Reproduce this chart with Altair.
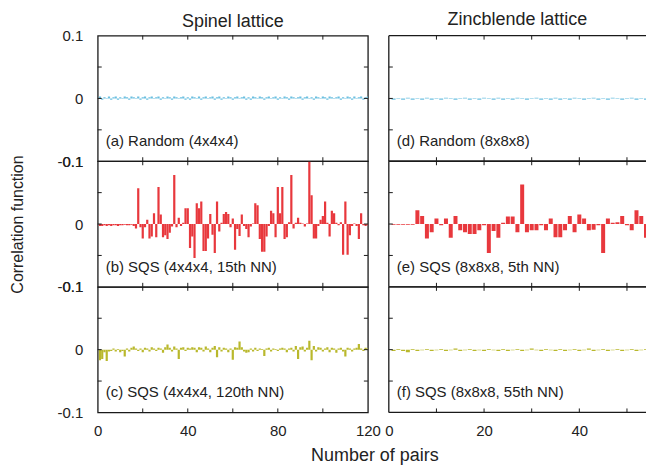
import altair as alt
import pandas as pd

# ---------------- data ----------------
pairs_spinel = list(range(1, 121))
pairs_zb = list(range(1, 55))

rand_spinel = [
    0.003, -0.002, 0.002, -0.001, 0.003, -0.002, 0.002, 0.003, -0.002, 0.002,
    -0.001, 0.003, 0.002, -0.002, 0.003, 0.002, -0.001, 0.003, -0.002, 0.002,
    0.003, -0.002, 0.002, 0.003, -0.001, 0.002, 0.003, -0.002, 0.002, -0.001,
    0.003, 0.002, -0.002, 0.003, 0.002, -0.001, 0.002, 0.003, -0.002, 0.002,
    -0.002, 0.003, 0.002, -0.001, 0.003, -0.002, 0.002, 0.003, -0.001, 0.002,
    0.003, -0.002, 0.002, 0.003, -0.002, 0.002, -0.001, 0.003, 0.002, -0.002,
    0.002, 0.003, -0.001, 0.002, 0.003, -0.002, 0.002, -0.002, 0.003, 0.002,
    -0.001, 0.003, 0.002, -0.002, 0.002, 0.003, -0.001, 0.002, 0.003, -0.002,
    0.002, -0.001, 0.003, 0.002, -0.002, 0.003, 0.002, -0.001, 0.002, 0.003,
    -0.002, 0.002, 0.003, -0.001, 0.002, -0.002, 0.003, 0.002, -0.001, 0.003,
    0.002, -0.002, 0.003, 0.002, -0.001, 0.002, 0.003, -0.002, 0.002, -0.001,
    0.003, 0.002, -0.002, 0.003, -0.001, 0.002, 0.003, -0.002, 0.002, 0.003,
]

sqs15_spinel = [
    -0.003, -0.003, -0.002, -0.003, -0.002, -0.003, -0.002, -0.002, -0.003, -0.002,
    -0.002, -0.001, -0.002, -0.002, -0.001, -0.003, -0.007, 0.057, -0.005, -0.023,
    -0.005, 0.007, -0.023, -0.020, 0.017, -0.021, 0.059, 0.015, -0.021, -0.018,
    -0.024, -0.014, -0.004, 0.078, -0.005, 0.010, -0.003, 0.002, 0.025, 0.025,
    -0.038, -0.020, -0.054, 0.033, 0.025, 0.036, -0.043, -0.043, -0.023, 0.016,
    -0.017, -0.046, 0.036, -0.012, 0.002, 0.016, 0.019, 0.016, -0.005, 0.009,
    -0.041, -0.008, -0.019, 0.015, -0.003, -0.008, -0.021, -0.004, 0.001, 0.033,
    0.030, -0.024, -0.044, -0.044, -0.020, -0.003, 0.021, 0.017, -0.021, 0.059,
    0.017, 0.059, -0.024, -0.021, 0.003, 0.078, -0.007, 0.002, 0.010, 0.002,
    0.001, -0.004, 0.001, 0.099, 0.046, -0.023, -0.023, -0.003, 0.007, 0.013,
    0.036, 0.002, -0.020, 0.021, 0.017, 0.002, -0.002, 0.003, -0.049, 0.036,
    -0.049, -0.018, -0.003, 0.001, -0.003, -0.024, 0.017, -0.002, -0.003, -0.002,
]

sqs120_spinel = [
    -0.017, -0.015, -0.004, -0.018, -0.003, -0.002, 0.002, -0.003, 0.001, -0.004,
    -0.002, -0.011, 0.002, -0.003, 0.003, 0.005, 0.002, -0.002, 0.002, -0.004,
    0.003, 0.002, -0.003, 0.004, 0.002, -0.002, 0.003, 0.002, -0.005, 0.004,
    0.008, 0.003, -0.003, 0.005, 0.002, -0.015, 0.003, 0.004, -0.002, 0.003,
    0.002, 0.004, 0.003, -0.004, 0.004, 0.003, -0.003, 0.005, 0.002, -0.004,
    0.003, 0.006, -0.012, 0.004, -0.003, 0.003, 0.002, -0.004, 0.002, -0.016,
    0.004, 0.003, 0.013, 0.004, -0.003, -0.005, -0.004, 0.002, -0.003, 0.003,
    -0.002, 0.002, 0.001, -0.010, 0.002, 0.003, -0.003, 0.002, 0.001, -0.002,
    0.002, 0.003, 0.002, -0.004, 0.002, 0.003, -0.003, 0.006, -0.015, 0.004,
    0.005, -0.003, 0.003, 0.014, -0.017, 0.006, -0.003, 0.004, 0.003, -0.003,
    0.002, 0.004, -0.004, 0.003, 0.002, -0.005, 0.002, 0.003, -0.003, -0.011,
    0.003, 0.002, -0.003, 0.002, 0.003, 0.009, 0.002, -0.002, 0.003, 0.002,
]

rand_zb = [
    -0.002, -0.001, -0.002, 0.001, -0.002, -0.001, -0.002, 0.001, -0.002, -0.001,
    -0.002, 0.001, -0.001, -0.002, -0.001, 0.001, -0.002, -0.001, -0.002, 0.001,
    -0.001, -0.002, 0.001, -0.002, -0.001, -0.002, 0.001, -0.001, -0.002, -0.001,
    0.001, -0.002, -0.001, -0.002, 0.001, -0.002, -0.001, -0.002, 0.001, -0.001,
    -0.002, -0.001, 0.001, -0.002, -0.001, -0.002, 0.001, -0.001, -0.002, -0.001,
    0.001, -0.002, -0.001, -0.002,
]

sqs5_zb = [
    -0.001, -0.001, -0.001, -0.001, -0.001, 0.022, 0.013, -0.023, -0.013, 0.009,
    -0.002, 0.009, -0.022, 0.013, -0.010, -0.013, -0.016, -0.016, -0.010, -0.002,
    -0.046, -0.011, -0.022, 0.002, 0.012, 0.012, -0.013, 0.063, -0.013, -0.010,
    -0.010, -0.002, -0.010, 0.009, -0.021, -0.021, -0.010, 0.013, -0.013, 0.015,
    0.009, -0.010, -0.009, -0.002, -0.046, 0.009, 0.002, 0.003, 0.013, -0.002,
    -0.010, 0.022, 0.013, -0.022,
]

sqs55_zb = [
    -0.002, 0.001, -0.002, -0.004, 0.001, -0.002, -0.001, 0.001, -0.002, -0.001,
    0.001, -0.002, -0.001, 0.002, -0.002, -0.001, 0.001, -0.002, -0.001, -0.002,
    0.001, -0.001, -0.002, 0.001, -0.002, -0.001, 0.001, -0.002, -0.001, 0.002,
    -0.001, -0.002, 0.001, -0.001, -0.002, 0.001, -0.002, -0.001, 0.001, -0.002,
    -0.001, 0.002, -0.002, -0.001, 0.001, -0.002, -0.001, 0.001, -0.002, -0.001,
    0.001, -0.002, -0.001, 0.001,
]

labels = [
    "(a) Random (4x4x4)", "(b) SQS (4x4x4, 15th NN)", "(c) SQS (4x4x4, 120th NN)",
    "(d) Random (8x8x8)", "(e) SQS (8x8x8, 5th NN)", "(f) SQS (8x8x8, 55th NN)",
]
col_titles = ["Spinel lattice", "Zincblende lattice"]

spinel_xlabels = [0, 40, 80, 120]
spinel_minor = [20, 40, 60, 80, 100]
zb_xlabels = [0, 20, 40]
zb_minor = [10, 20, 30, 40, 50]
y_labels = [-0.1, 0, 0.1]
y_minor = [-0.05, 0, 0.05]

BLUE = "#6BBFE0"
RED = "#E8383D"
OLIVE = "#B9B82C"

# ---------------- styling ----------------
FONT = "Liberation Sans"
INK = "#1a1a1a"
TXT = "#222222"
LW, RW, H = 271, 258, 126
TICK = 4


def panel(xs, vals, color, label, col, row):
    W = LW if col == 0 else RW
    xmax = 120 if col == 0 else 54
    half = 0.49 if col == 0 else 0.42
    xscale = alt.Scale(domain=[0, xmax], nice=False, zero=False)
    yscale = alt.Scale(domain=[-0.1, 0.1], nice=False)

    if row == 2:
        xkw = dict(
            values=spinel_xlabels if col == 0 else zb_xlabels,
            ticks=False, domain=False, grid=False, labelFlush=False,
            labelPadding=11, labelFont=FONT, labelFontSize=15, labelColor=TXT,
            title=None,
        )
        if col == 0:
            xkw.update(
                title="Number of pairs", titleX=277.5, titleY=43,
                titleAlign="center", titleBaseline="middle",
                titleFont=FONT, titleFontSize=18, titleFontWeight="normal",
                titleColor=TXT,
            )
        xaxis = alt.Axis(**xkw)
    else:
        xaxis = None

    if col == 0:
        ykw = dict(
            values=y_labels, ticks=False, domain=False, grid=False,
            labelPadding=15, labelFont=FONT, labelFontSize=15, labelColor=TXT,
            labelExpr="datum.value == 0 ? '0' : (datum.value < 0 ? '-' : '') + format(abs(datum.value), '.1f')",
            title=None,
        )
        if row == 1:
            ykw.update(
                title="Correlation function", titleX=-80.5, titleY=H / 2,
                titleAlign="center", titleBaseline="middle", titleAngle=270,
                titleFont=FONT, titleFontSize=16, titleFontWeight="normal",
                titleColor=TXT,
            )
        yaxis = alt.Axis(**ykw)
    else:
        yaxis = None

    df = pd.DataFrame({"n": xs, "v": vals})
    bars = (
        alt.Chart(df)
        .transform_calculate(x0=f"datum.n - {half}", x1=f"datum.n + {half}")
        .mark_bar(color=color, clip=True)
        .encode(
            x=alt.X("x0:Q", scale=xscale, axis=xaxis),
            x2="x1:Q",
            y=alt.Y("v:Q", scale=yscale, axis=yaxis),
            y2=alt.datum(0),
        )
    )

    minor = spinel_minor if col == 0 else zb_minor
    xt = pd.DataFrame({"t": minor})
    yt = pd.DataFrame({"t": y_minor})
    layers = [bars]
    layers.append(
        alt.Chart(xt).mark_rule(color=INK, strokeWidth=1).encode(
            x=alt.X("t:Q", scale=xscale, axis=xaxis), y=alt.value(H), y2=alt.value(H - TICK)
        )
    )
    layers.append(
        alt.Chart(xt).mark_rule(color=INK, strokeWidth=1).encode(
            x=alt.X("t:Q", scale=xscale, axis=xaxis), y=alt.value(0), y2=alt.value(TICK)
        )
    )
    layers.append(
        alt.Chart(yt).mark_rule(color=INK, strokeWidth=1).encode(
            y=alt.Y("t:Q", scale=yscale, axis=yaxis), x=alt.value(0), x2=alt.value(TICK)
        )
    )
    if col == 0:
        layers.append(
            alt.Chart(yt).mark_rule(color=INK, strokeWidth=1).encode(
                y=alt.Y("t:Q", scale=yscale, axis=yaxis), x=alt.value(W), x2=alt.value(W - TICK)
            )
        )
    else:
        one = pd.DataFrame({"k": [0]})
        layers.append(alt.Chart(one).mark_rule(color=INK, strokeWidth=1.3).encode(
            x=alt.value(0), y=alt.value(0), y2=alt.value(H)))
        layers.append(alt.Chart(one).mark_rule(color=INK, strokeWidth=1.3).encode(
            x=alt.value(0), x2=alt.value(W), y=alt.value(0)))
        layers.append(alt.Chart(one).mark_rule(color=INK, strokeWidth=1.3).encode(
            x=alt.value(0), x2=alt.value(W), y=alt.value(H)))

    txt = (
        alt.Chart(pd.DataFrame({"label": [label]}))
        .mark_text(align="left", baseline="middle", font=FONT, fontSize=15, color=TXT)
        .encode(x=alt.value(8), y=alt.value(H - 20), text="label:N")
    )
    layers.append(txt)

    view = (
        alt.ViewBackground(stroke=INK, strokeWidth=1.3)
        if col == 0
        else alt.ViewBackground(stroke="transparent")
    )
    props = dict(width=W, height=H, view=view)
    if row == 0:
        props["title"] = alt.TitleParams(
            col_titles[col], font=FONT, fontSize=18, fontWeight="normal",
            color=TXT, anchor="middle", frame="group",
            offset=-2 if col == 0 else 6,
        )
    return alt.layer(*layers).properties(**props)


a = panel(pairs_spinel, rand_spinel, BLUE, labels[0], 0, 0)
b = panel(pairs_spinel, sqs15_spinel, RED, labels[1], 0, 1)
c = panel(pairs_spinel, sqs120_spinel, OLIVE, labels[2], 0, 2)
d = panel(pairs_zb, rand_zb, BLUE, labels[3], 1, 0)
e = panel(pairs_zb, sqs5_zb, RED, labels[4], 1, 1)
f = panel(pairs_zb, sqs55_zb, OLIVE, labels[5], 1, 2)

chart = alt.concat(
    a, d, b, e, c, f,
    columns=2,
    spacing={"row": 0, "column": 21},
    bounds="flush",
).properties(
    padding={"left": 0, "top": 1, "right": 0, "bottom": 0},
    background="white",
)

chart.save("out.html", embed_options={"renderer": "svg", "actions": False})
